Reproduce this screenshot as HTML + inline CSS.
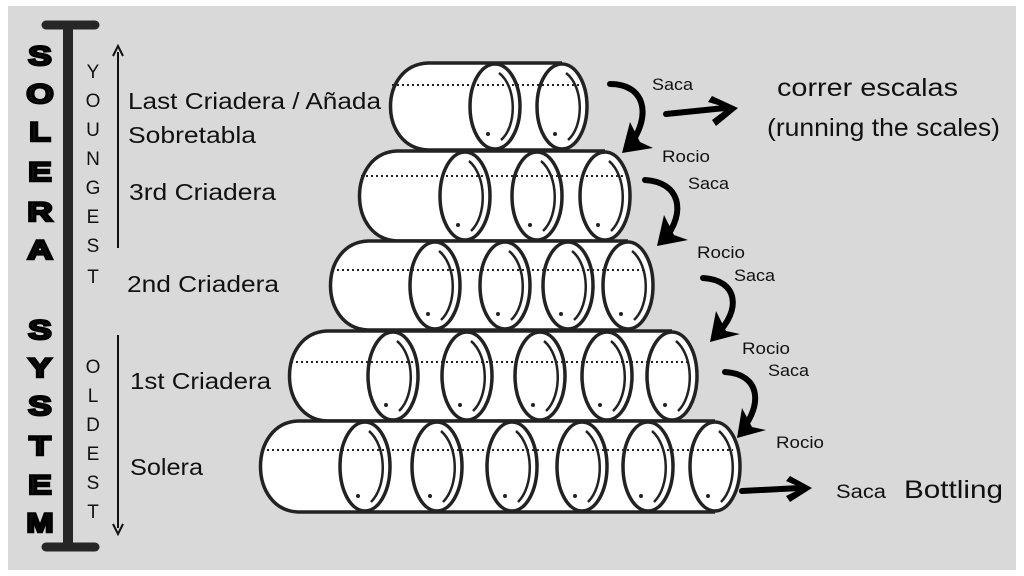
<!DOCTYPE html>
<html><head><meta charset="utf-8"><style>
html,body{margin:0;padding:0;background:#fff;}
svg{display:block;}
text{font-family:"Liberation Sans","DejaVu Sans",sans-serif;fill:#111;}
</style></head><body>
<svg id="s" width="1024" height="576" viewBox="0 0 1024 576" xmlns="http://www.w3.org/2000/svg">
<rect x="0" y="0" width="1024" height="576" fill="#fff"/>
<rect x="8" y="6" width="1008" height="564" fill="#d9d9d9"/>
<rect x="63" y="25" width="10" height="522" fill="#262626"/>
<line x1="46" y1="25" x2="95" y2="25" stroke="#262626" stroke-width="9" stroke-linecap="round"/>
<line x1="46" y1="547" x2="95" y2="547" stroke="#262626" stroke-width="9" stroke-linecap="round"/>
<g font-weight="900" font-size="27" text-anchor="middle" stroke="#000" stroke-width="2.5">
<text transform="translate(40,65) scale(1.3,1)">S</text>
<text transform="translate(40,103) scale(1.3,1)">O</text>
<text transform="translate(40,141) scale(1.3,1)">L</text>
<text transform="translate(40,181) scale(1.3,1)">E</text>
<text transform="translate(40,221) scale(1.3,1)">R</text>
<text transform="translate(40,259) scale(1.3,1)">A</text>
<text transform="translate(40,339) scale(1.3,1)">S</text>
<text transform="translate(40,377) scale(1.3,1)">Y</text>
<text transform="translate(40,415) scale(1.3,1)">S</text>
<text transform="translate(40,455) scale(1.3,1)">T</text>
<text transform="translate(40,494) scale(1.3,1)">E</text>
<text transform="translate(40,532) scale(1.2,1)">M</text>
</g>
<g font-size="19" text-anchor="middle">
<text x="93" y="78">Y</text><text x="93" y="107">O</text><text x="93" y="136">U</text><text x="93" y="165">N</text>
<text x="93" y="194">G</text><text x="93" y="223">E</text><text x="93" y="252">S</text><text x="93" y="283">T</text>
<text x="93" y="373">O</text><text x="93" y="402">L</text><text x="93" y="431">D</text><text x="93" y="460">E</text>
<text x="93" y="489">S</text><text x="93" y="518">T</text>
</g>
<line x1="118" y1="248" x2="118" y2="52" stroke="#111" stroke-width="2"/>
<path d="M113 56 L118 46 L123 56" fill="none" stroke="#111" stroke-width="2"/>
<line x1="118" y1="335" x2="118" y2="528" stroke="#111" stroke-width="2"/>
<path d="M113 524 L118 534 L123 524" fill="none" stroke="#111" stroke-width="2"/>
<g font-size="23">
<text x="128" y="109" textLength="253" lengthAdjust="spacingAndGlyphs">Last Criadera / Añada</text>
<text x="128" y="143" textLength="128" lengthAdjust="spacingAndGlyphs">Sobretabla</text>
<text x="129" y="200" textLength="147" lengthAdjust="spacingAndGlyphs">3rd Criadera</text>
<text x="127" y="292" textLength="152" lengthAdjust="spacingAndGlyphs">2nd Criadera</text>
<text x="130" y="389" textLength="141" lengthAdjust="spacingAndGlyphs">1st Criadera</text>
<text x="130" y="475" textLength="73" lengthAdjust="spacingAndGlyphs">Solera</text>
</g>
<g id="barrels"></g>
<g fill="none" stroke="#000" stroke-width="6" stroke-linecap="round">
<path d="M610 84 C645 84 652 115 630 145"/>
<path d="M645 180 C680 182 687 212 664 240"/>
<path d="M703 278 C738 280 742 310 716 335"/>
<path d="M725 372 C760 374 763 404 742 430"/>
<path d="M666 114 L725 108"/>
<path d="M742 491 L800 488"/>
</g>
<g fill="#000">
<polygon points="622,153 630,122 640,142 653,148"/>
<polygon points="657,246 664,215 674,235 688,240"/>
<polygon points="710,342 716,311 726,331 740,334"/>
<polygon points="737,438 742,408 752,427 766,430"/>
<path d="M712 96 L738 108 L716 126 L712 120 L728 108 L708 102Z"/>
<path d="M790 476 L812 488 L790 502 L786 496 L802 488 L786 481Z"/>
</g>
<g font-size="17">
<text x="652" y="90" textLength="41" lengthAdjust="spacingAndGlyphs">Saca</text><text x="662" y="162" textLength="48" lengthAdjust="spacingAndGlyphs">Rocio</text>
<text x="688" y="189" textLength="41" lengthAdjust="spacingAndGlyphs">Saca</text><text x="697" y="258" textLength="48" lengthAdjust="spacingAndGlyphs">Rocio</text>
<text x="734" y="281" textLength="41" lengthAdjust="spacingAndGlyphs">Saca</text><text x="742" y="354" textLength="48" lengthAdjust="spacingAndGlyphs">Rocio</text>
<text x="768" y="376" textLength="41" lengthAdjust="spacingAndGlyphs">Saca</text><text x="776" y="448" textLength="48" lengthAdjust="spacingAndGlyphs">Rocio</text>
</g>
<text x="836" y="498" font-size="19" textLength="50" lengthAdjust="spacingAndGlyphs">Saca</text>
<text x="904" y="498" font-size="25" textLength="99" lengthAdjust="spacingAndGlyphs">Bottling</text>
<text x="777" y="96" font-size="25" textLength="181" lengthAdjust="spacingAndGlyphs">correr escalas</text>
<text x="767" y="136" font-size="25" textLength="233" lengthAdjust="spacingAndGlyphs">(running the scales)</text>
</svg>
<script>
var rows=[
 {l:388,t:63,b:150,d:85,f:[495,562]},
 {l:357,t:151,b:241,d:176,f:[465,537,605]},
 {l:328,t:241,b:330,d:270,f:[435,505,568,628]},
 {l:287,t:331,b:421,d:362,f:[393,467,540,607,672]},
 {l:258,t:421,b:512,d:450,f:[365,437,512,582,648,715]}
];
var g=document.getElementById('barrels'),h='';
var st='stroke="#222" stroke-width="3.5"';
rows.forEach(function(r){
 var cy=(r.t+r.b)/2, ry=(r.b-r.t)/2, rx=25;
 var prev=r.l;
 r.f.forEach(function(fx,i){
  if(i==0){
   h+='<path d="M'+fx+' '+r.t+' L'+(r.l+40)+' '+r.t+' C'+(r.l-10)+' '+(r.t+2)+' '+(r.l-10)+' '+(r.b-2)+' '+(r.l+40)+' '+r.b+' L'+fx+' '+r.b+'" fill="#fff" '+st+'/>';
  } else {
   h+='<path d="M'+(prev)+' '+r.t+' L'+fx+' '+r.t+' L'+fx+' '+r.b+' L'+prev+' '+r.b+'Z" fill="#fff" stroke="none"/>';
   h+='<path d="M'+(prev)+' '+r.t+' L'+fx+' '+r.t+' M'+prev+' '+r.b+' L'+fx+' '+r.b+'" fill="none" '+st+'/>';
  }
  prev=fx;
 });
 r.f.forEach(function(fx,i){
  h+='<ellipse cx="'+fx+'" cy="'+cy+'" rx="'+rx+'" ry="'+(ry-1)+'" fill="#fff" '+st+'/>';
  h+='<path d="M'+(fx+4)+' '+(r.t+10)+' C'+(fx+22)+' '+(cy-20)+' '+(fx+22)+' '+(cy+20)+' '+(fx+6)+' '+(r.b-10)+'" fill="none" stroke="#222" stroke-width="2.5"/>';
  h+='<circle cx="'+(fx-7)+'" cy="'+(r.b-16)+'" r="2" fill="#222"/>';
 });
 h+='<line x1="'+(r.l+4)+'" y1="'+r.d+'" x2="'+(r.f[r.f.length-1]+18)+'" y2="'+r.d+'" stroke="#222" stroke-width="2" stroke-dasharray="2,3"/>';
});
g.innerHTML=h;
</script>
</body></html>
